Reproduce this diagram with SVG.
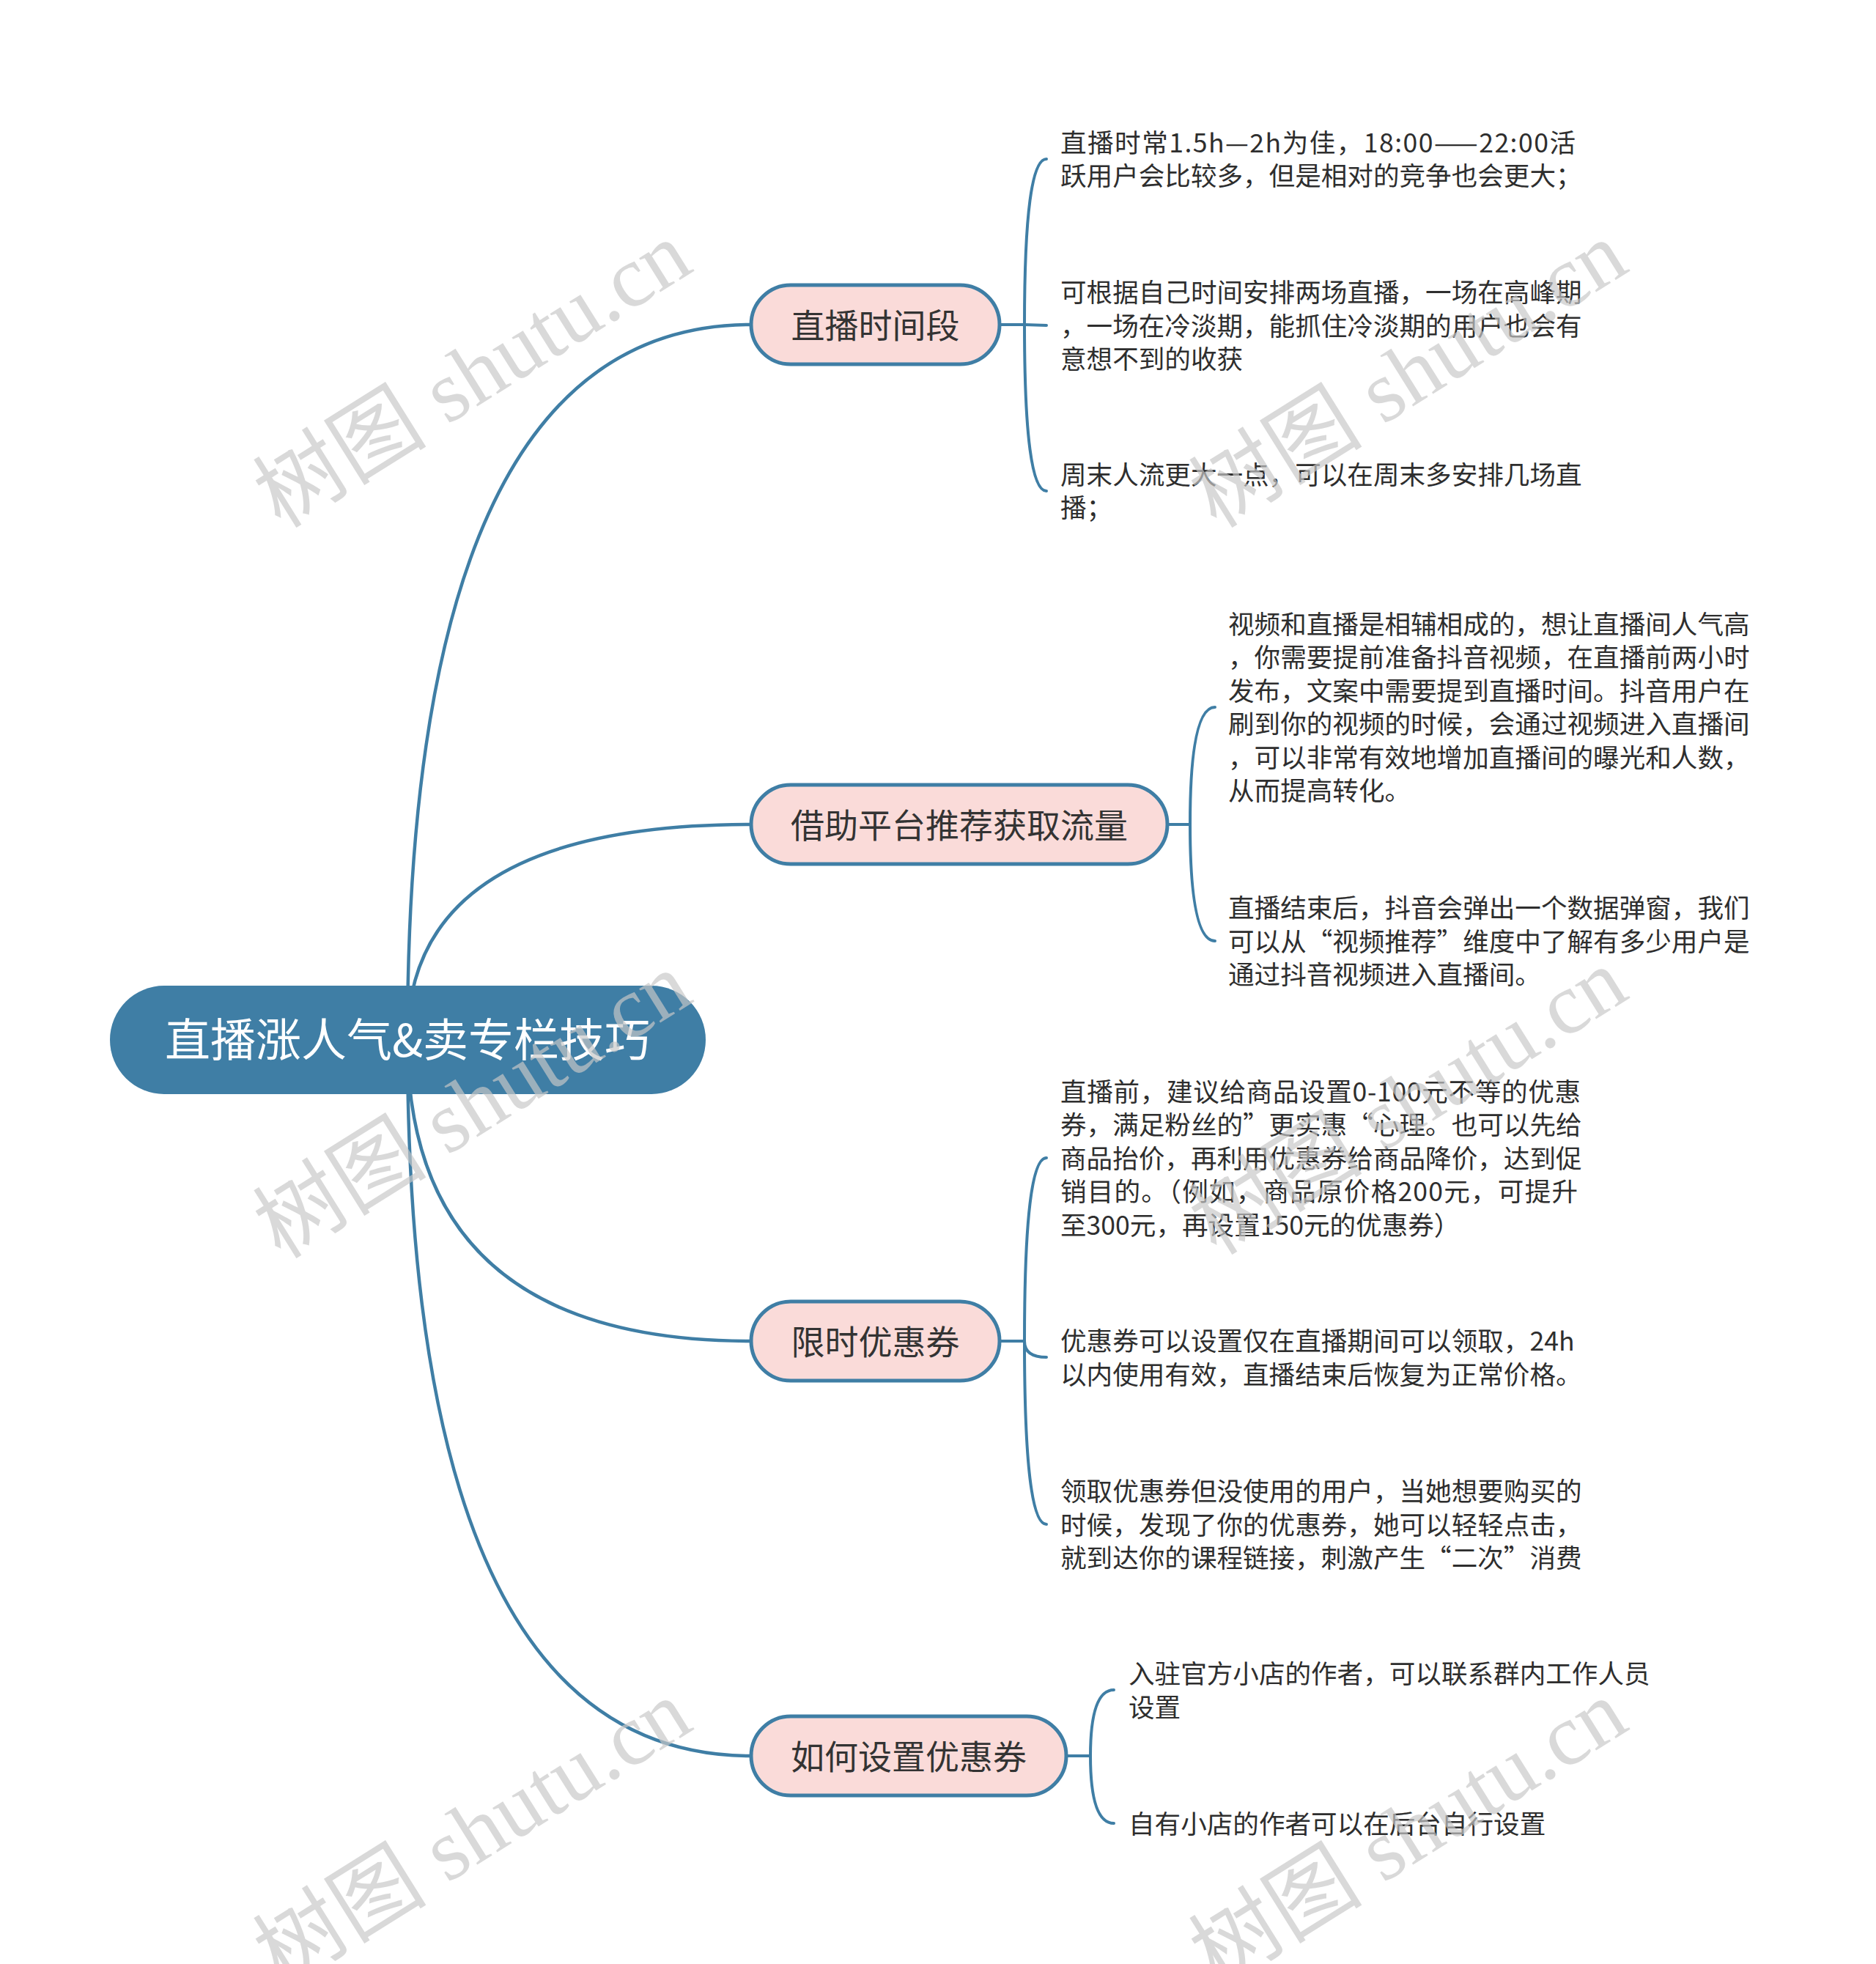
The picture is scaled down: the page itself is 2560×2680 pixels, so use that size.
<svg xmlns="http://www.w3.org/2000/svg" width="2560" height="2680" viewBox="0 0 2560 2680">
<style>
.bg{fill:#ffffff}
.conn{fill:none;stroke:#3f7ea5;stroke-width:4.5;stroke-linecap:round}
.br{fill:none;stroke:#3f7ea5;stroke-width:4;stroke-linecap:round}
.root{fill:#3f7ea5}
.rootText{font-family:"Noto Sans CJK SC","Noto Sans",sans-serif;font-size:62px;fill:#ffffff;text-anchor:middle}
.node{fill:#fadbd9;stroke:#3f7ea5;stroke-width:5}
.nodeText{font-family:"Noto Sans CJK SC","Noto Sans",sans-serif;font-size:46px;fill:#333333;text-anchor:middle}
.leaf{font-family:"Noto Sans CJK SC","Noto Sans",sans-serif;font-size:35.6px;fill:#2e2e2e}
.wm{font-family:"Liberation Serif","Noto Sans CJK SC",serif;font-size:119px;fill:#c8c8c8;opacity:0.68;text-anchor:middle}
</style>
<rect class="bg" x="0" y="0" width="2560" height="2680"/>
<g id="connectors">
  <path class="conn" d="M556 1419 Q556 443 1025 443"/>
  <path class="conn" d="M556 1419 Q556 1125 1025 1125"/>
  <path class="conn" d="M556 1419 Q556 1830 1025 1830"/>
  <path class="conn" d="M556 1419 Q556 2396 1025 2396"/>
  <path class="br" d="M1364 443 H1398"/>
  <path class="br" d="M1398 443 Q1398 217 1428 217"/>
  <path class="br" d="M1398 443 L1428 444"/>
  <path class="br" d="M1398 443 Q1398 670 1428 670"/>
  <path class="br" d="M1593 1125 H1624"/>
  <path class="br" d="M1624 1125 Q1624 965 1658 965"/>
  <path class="br" d="M1624 1125 Q1624 1284 1658 1284"/>
  <path class="br" d="M1364 1830 H1398"/>
  <path class="br" d="M1398 1830 Q1398 1580 1428 1580"/>
  <path class="br" d="M1398 1830 Q1398 1852 1428 1852"/>
  <path class="br" d="M1398 1830 Q1398 2080 1428 2080"/>
  <path class="br" d="M1455 2396 H1488"/>
  <path class="br" d="M1488 2396 Q1488 2306 1520 2306"/>
  <path class="br" d="M1488 2396 Q1488 2488 1520 2488"/>
</g>
<g id="root">
  <rect class="root" x="150" y="1345" width="813" height="148" rx="74"/>
  <text class="rootText" x="556" y="1442">直播涨人气&amp;卖专栏技巧</text>
</g>
<g id="n1">
  <rect class="node" x="1025" y="389" width="339" height="108" rx="54"/>
  <text class="nodeText" x="1194.5" y="460.5">直播时间段</text>
</g>
<g id="n2">
  <rect class="node" x="1025" y="1071" width="568" height="108" rx="54"/>
  <text class="nodeText" x="1309" y="1142.5">借助平台推荐获取流量</text>
</g>
<g id="n3">
  <rect class="node" x="1025" y="1776" width="339" height="108" rx="54"/>
  <text class="nodeText" x="1194.5" y="1847.5">限时优惠券</text>
</g>
<g id="n4">
  <rect class="node" x="1025" y="2342" width="430" height="108" rx="54"/>
  <text class="nodeText" x="1240" y="2413.5">如何设置优惠券</text>
</g>
<g id="n1c1"><text class="leaf" x="1447" y="208" textLength="703" lengthAdjust="spacing">直播时常1.5h—2h为佳，18:00——22:00活</text><text class="leaf" x="1447" y="253">跃用户会比较多，但是相对的竞争也会更大；</text></g>
<g id="n1c2"><text class="leaf"><tspan x="1447" y="412">可根据自己时间安排两场直播，一场在高峰期</tspan><tspan x="1447" y="457.5">，一场在冷淡期，能抓住冷淡期的用户也会有</tspan><tspan x="1447" y="503">意想不到的收获</tspan></text></g>
<g id="n1c3"><text class="leaf"><tspan x="1447" y="661">周末人流更大一点，可以在周末多安排几场直</tspan><tspan x="1447" y="706">播；</tspan></text></g>
<g id="n2c1"><text class="leaf"><tspan x="1676" y="865">视频和直播是相辅相成的，想让直播间人气高</tspan><tspan x="1676" y="910">，你需要提前准备抖音视频，在直播前两小时</tspan><tspan x="1676" y="956">发布，文案中需要提到直播时间。抖音用户在</tspan><tspan x="1676" y="1001">刷到你的视频的时候，会通过视频进入直播间</tspan><tspan x="1676" y="1047">，可以非常有效地增加直播间的曝光和人数，</tspan><tspan x="1676" y="1092">从而提高转化。</tspan></text></g>
<g id="n2c2"><text class="leaf"><tspan x="1676" y="1252">直播结束后，抖音会弹出一个数据弹窗，我们</tspan><tspan x="1676" y="1297.5">可以从“视频推荐”维度中了解有多少用户是</tspan><tspan x="1676" y="1343">通过抖音视频进入直播间。</tspan></text></g>
<g id="n3c1"><text class="leaf" x="1447" y="1502.5" textLength="710" lengthAdjust="spacing">直播前，建议给商品设置0-100元不等的优惠</text><text class="leaf"><tspan x="1447" y="1548">券，满足粉丝的”更实惠“心理。也可以先给</tspan><tspan x="1447" y="1593.5">商品抬价，再利用优惠券给商品降价，达到促</tspan></text><text class="leaf" x="1447" y="1639" textLength="706" lengthAdjust="spacing">销目的。（例如，商品原价格200元，可提升</text><text class="leaf" x="1447" y="1684.5">至300元，再设置150元的优惠券）</text></g>
<g id="n3c2"><text class="leaf"><tspan x="1447" y="1843">优惠券可以设置仅在直播期间可以领取，24h</tspan><tspan x="1447" y="1888.5">以内使用有效，直播结束后恢复为正常价格。</tspan></text></g>
<g id="n3c3"><text class="leaf"><tspan x="1447" y="2048">领取优惠券但没使用的用户，当她想要购买的</tspan><tspan x="1447" y="2093.5">时候，发现了你的优惠券，她可以轻轻点击，</tspan><tspan x="1447" y="2139">就到达你的课程链接，刺激产生“二次”消费</tspan></text></g>
<g id="n4c1"><text class="leaf"><tspan x="1540" y="2297">入驻官方小店的作者，可以联系群内工作人员</tspan><tspan x="1540" y="2342.5">设置</tspan></text></g>
<g id="n4c2"><text class="leaf"><tspan x="1540" y="2501.5">自有小店的作者可以在后台自行设置</tspan></text></g>
<g id="watermarks">
  <text class="wm" x="644" y="510" dy="0.35em" transform="rotate(-32 644 510)">树图 shutu.cn</text>
  <text class="wm" x="1921" y="510" dy="0.35em" transform="rotate(-32 1921 510)">树图 shutu.cn</text>
  <text class="wm" x="644" y="1507" dy="0.35em" transform="rotate(-32 644 1507)">树图 shutu.cn</text>
  <text class="wm" x="1921" y="1502" dy="0.35em" transform="rotate(-32 1921 1502)">树图 shutu.cn</text>
  <text class="wm" x="644" y="2500" dy="0.35em" transform="rotate(-32 644 2500)">树图 shutu.cn</text>
  <text class="wm" x="1921" y="2500" dy="0.35em" transform="rotate(-32 1921 2500)">树图 shutu.cn</text>
</g>
</svg>
